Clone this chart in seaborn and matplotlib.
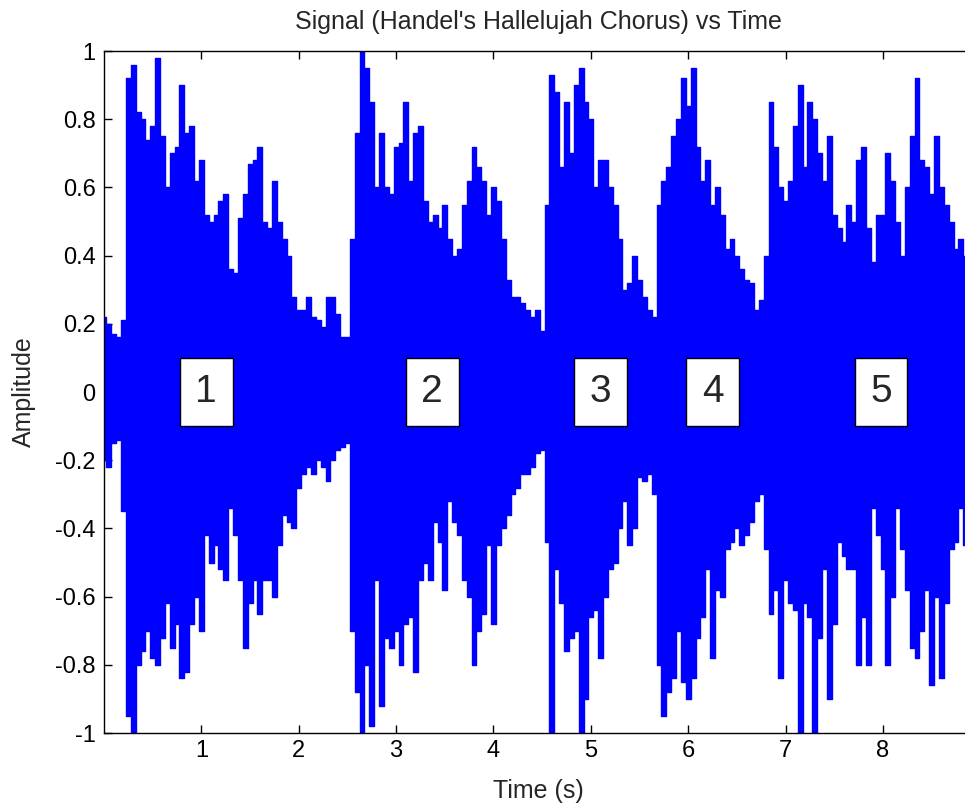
import numpy as np
import pandas as pd
import seaborn as sns
from matplotlib import pyplot as plt

# envelope of the waveform, read every 0.05 s (max / min amplitude)
upper = [0.22, 0.20, 0.17, 0.16, 0.21, 0.92, 0.96, 0.82, 0.80, 0.74,
         0.78, 0.98, 0.75, 0.60, 0.70, 0.72, 0.90, 0.76, 0.78, 0.62,
         0.68, 0.52, 0.50, 0.52, 0.56, 0.58, 0.36, 0.35, 0.51, 0.58,
         0.67, 0.68, 0.72, 0.50, 0.48, 0.62, 0.50, 0.45, 0.40, 0.28,
         0.24, 0.24, 0.28, 0.22, 0.21, 0.19, 0.28, 0.28, 0.23, 0.16,
         0.16, 0.45, 0.76, 1.00, 0.95, 0.85, 0.60, 0.76, 0.60, 0.58,
         0.72, 0.73, 0.85, 0.62, 0.76, 0.78, 0.56, 0.50, 0.52, 0.48,
         0.55, 0.45, 0.40, 0.42, 0.55, 0.62, 0.72, 0.66, 0.62, 0.52,
         0.60, 0.56, 0.45, 0.33, 0.28, 0.28, 0.26, 0.24, 0.22, 0.24,
         0.18, 0.55, 0.93, 0.88, 0.66, 0.85, 0.70, 0.90, 0.95, 0.85,
         0.80, 0.60, 0.68, 0.68, 0.60, 0.55, 0.45, 0.30, 0.32, 0.40,
         0.33, 0.28, 0.24, 0.22, 0.55, 0.62, 0.66, 0.75, 0.80, 0.92,
         0.84, 0.95, 0.72, 0.62, 0.68, 0.55, 0.60, 0.52, 0.42, 0.45,
         0.40, 0.36, 0.33, 0.32, 0.24, 0.27, 0.40, 0.85, 0.72, 0.60,
         0.56, 0.62, 0.78, 0.90, 0.66, 0.85, 0.80, 0.70, 0.62, 0.75,
         0.52, 0.48, 0.44, 0.55, 0.50, 0.68, 0.72, 0.48, 0.38, 0.52,
         0.52, 0.70, 0.62, 0.50, 0.40, 0.60, 0.75, 0.92, 0.68, 0.66,
         0.58, 0.75, 0.60, 0.55, 0.50, 0.42, 0.45, 0.40, 0.35]
lower = [-0.20, -0.22, -0.15, -0.14, -0.35, -0.95, -1.00, -0.80, -0.76, -0.70,
         -0.78, -0.80, -0.72, -0.62, -0.75, -0.68, -0.84, -0.82, -0.68, -0.60,
         -0.70, -0.42, -0.50, -0.45, -0.52, -0.55, -0.34, -0.42, -0.55, -0.75,
         -0.62, -0.55, -0.65, -0.55, -0.55, -0.60, -0.45, -0.36, -0.38, -0.40,
         -0.28, -0.24, -0.22, -0.24, -0.20, -0.22, -0.26, -0.20, -0.17, -0.16,
         -0.15, -0.70, -0.88, -1.00, -0.80, -0.98, -0.55, -0.92, -0.72, -0.75,
         -0.70, -0.80, -0.68, -0.66, -0.82, -0.55, -0.50, -0.55, -0.38, -0.44,
         -0.58, -0.32, -0.38, -0.42, -0.55, -0.60, -0.80, -0.70, -0.65, -0.45,
         -0.68, -0.45, -0.40, -0.36, -0.30, -0.28, -0.24, -0.24, -0.22, -0.18,
         -0.17, -0.44, -1.00, -0.52, -0.62, -0.76, -0.72, -0.70, -1.00, -0.90,
         -0.66, -0.64, -0.78, -0.60, -0.52, -0.50, -0.40, -0.32, -0.45, -0.40,
         -0.25, -0.26, -0.24, -0.30, -0.80, -0.95, -0.88, -0.84, -0.70, -0.85,
         -0.90, -0.84, -0.72, -0.66, -0.52, -0.78, -0.58, -0.60, -0.46, -0.44,
         -0.40, -0.45, -0.42, -0.38, -0.32, -0.30, -0.46, -0.65, -0.58, -0.84,
         -0.55, -0.62, -0.64, -1.00, -0.62, -0.66, -1.00, -0.72, -0.52, -0.90,
         -0.68, -0.44, -0.48, -0.52, -0.52, -0.80, -0.66, -0.80, -0.34, -0.42,
         -0.52, -0.80, -0.60, -0.34, -0.46, -0.58, -0.75, -0.78, -0.70, -0.58,
         -0.86, -0.60, -0.84, -0.62, -0.46, -0.44, -0.34, -0.45, -0.40]
time = np.round(np.arange(len(upper)) * 0.05, 2)

section_labels = ['1', '2', '3', '4', '5']
section_times = [1.05, 3.37, 5.10, 6.25, 7.98]

duration = 8.925  # 73113 samples at 8192 Hz

sns.set_style('ticks')
plt.rcParams['font.family'] = ['Liberation Sans', 'DejaVu Sans']
plt.rcParams['xtick.direction'] = 'in'
plt.rcParams['ytick.direction'] = 'in'

df = pd.DataFrame({'Time (s)': time, 'upper': upper, 'lower': lower})

fig = plt.figure(figsize=(9.65, 8.08), dpi=100)
# axes runs past the right edge, like the cropped screenshot
ax = fig.add_axes([0.1078, 0.0928, 0.9005, 0.844])

ax.fill_between(df['Time (s)'], df['lower'], df['upper'], step='mid',
                color='blue', lw=0)
sns.lineplot(data=df, x='Time (s)', y='upper', drawstyle='steps-mid',
             color='blue', lw=1, ax=ax)
sns.lineplot(data=df, x='Time (s)', y='lower', drawstyle='steps-mid',
             color='blue', lw=1, ax=ax)

for lab, t in zip(section_labels, section_times):
    ax.text(t, 0, lab, fontsize=28, ha='center', va='center',
            bbox=dict(boxstyle='square,pad=0.4', fc='white', ec='black', lw=1))

ax.set_xlim(0, duration)
ax.set_ylim(-1, 1)
ax.set_xticks(range(1, 9))
ax.set_yticks(np.round(np.arange(-1, 1.01, 0.2), 1))
ax.set_yticklabels(['-1', '-0.8', '-0.6', '-0.4', '-0.2', '0',
                    '0.2', '0.4', '0.6', '0.8', '1'])
ax.tick_params(top=True, right=True, length=6, width=1, labelsize=17,
               colors='black')
ax.tick_params(axis='y', pad=6)
ax.tick_params(axis='x', pad=5)
for s in ax.spines.values():
    s.set_visible(True)
    s.set_color('black')
    s.set_linewidth(1)

ax.set_xlabel('Time (s)', fontsize=18, labelpad=12)
ax.set_ylabel('Amplitude', fontsize=18, labelpad=14)
ax.set_title("Signal (Handel's Hallelujah Chorus) vs Time", fontsize=18, pad=16)

plt.savefig('out.png', dpi=100)
plt.close()
